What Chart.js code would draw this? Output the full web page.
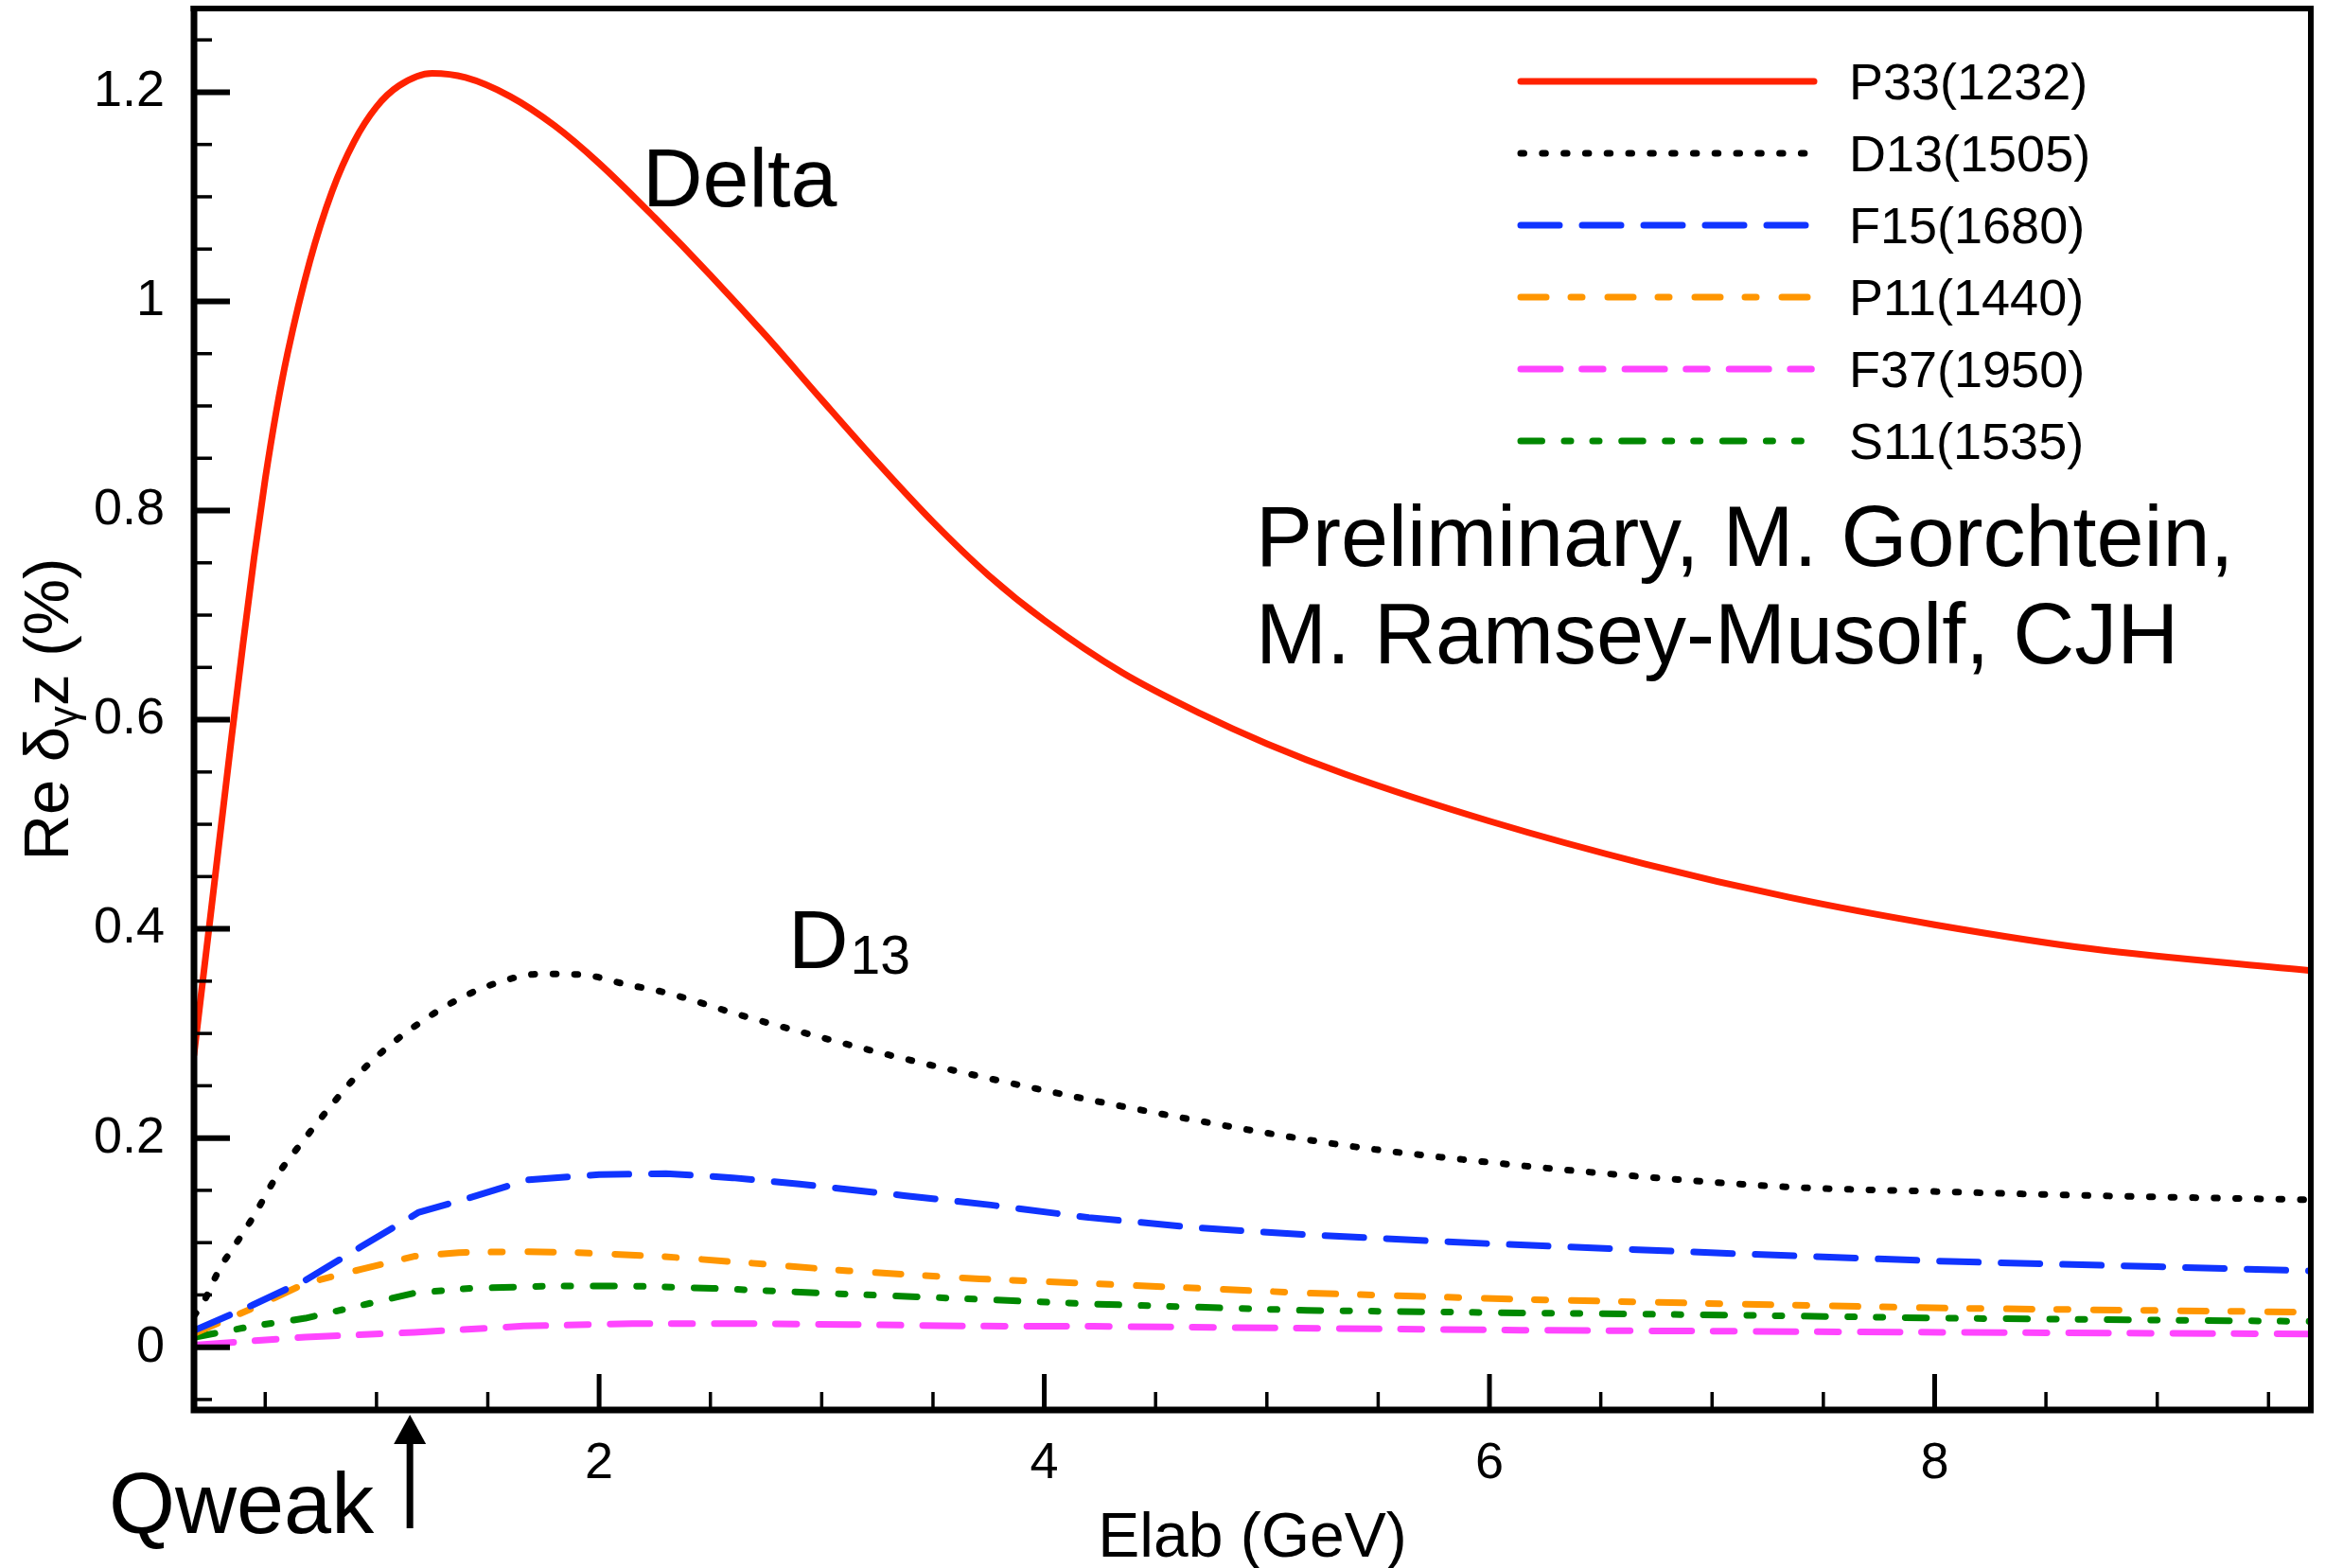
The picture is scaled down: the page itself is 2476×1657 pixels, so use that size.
<!DOCTYPE html>
<html>
<head>
<meta charset="utf-8">
<title>Re delta gamma Z</title>
<script src="https://cdn.jsdelivr.net/npm/chart.js@4.4.1/dist/chart.umd.min.js"></script>
<style>
    html, body { margin: 0; padding: 0; background: #fff; }
    #wrap { width: 2476px; height: 1657px; }
</style>
</head>
<body>
<div id="wrap"><canvas id="myChart" width="2476" height="1657"></canvas></div>
<script>
var FONT = "'Liberation Sans', Arial, Helvetica, sans-serif";

// resonance curves, Elab in GeV vs Re delta (%)
var p33X = [0.18, 0.25, 0.3, 0.35, 0.4, 0.45, 0.5, 0.55, 0.6, 0.7, 0.8, 0.9, 1.0, 1.1, 1.25, 1.4, 1.6, 1.8, 2.0, 2.25, 2.5, 2.75, 3.0, 3.25, 3.5, 3.75, 4.0, 4.35, 4.7, 5.0, 5.35, 6.0, 6.7, 7.35, 8.0, 8.7, 9.69];
var p33Y = [0.28, 0.405, 0.495, 0.585, 0.672, 0.755, 0.83, 0.895, 0.95, 1.038, 1.105, 1.153, 1.186, 1.206, 1.218, 1.214, 1.196, 1.168, 1.132, 1.080, 1.025, 0.967, 0.906, 0.846, 0.789, 0.738, 0.695, 0.645, 0.606, 0.577, 0.548, 0.503, 0.462, 0.430, 0.404, 0.381, 0.360];

var d13X = [0.18, 0.22, 0.3, 0.35, 0.45, 0.55, 0.68, 0.8, 0.9, 1.05, 1.2, 1.37, 1.55, 1.74, 1.93, 2.12, 2.3, 2.66, 3.33, 3.99, 4.68, 5.35, 5.99, 6.69, 7.36, 7.99, 8.7, 9.69];
var d13Y = [0.03, 0.042, 0.077, 0.093, 0.126, 0.163, 0.2, 0.232, 0.257, 0.287, 0.311, 0.333, 0.349, 0.357, 0.356, 0.347, 0.339, 0.316, 0.278, 0.246, 0.217, 0.193, 0.177, 0.163, 0.153, 0.149, 0.145, 0.141];

var f15X = [0.18, 0.44, 0.68, 0.93, 1.19, 1.42, 1.68, 2.0, 2.3, 2.6, 2.9, 3.37, 3.76, 4.2, 4.7, 5.18, 6.0, 7.1, 8.07, 9.0, 9.69];
var f15Y = [0.016, 0.040, 0.064, 0.096, 0.129, 0.143, 0.160, 0.165, 0.166, 0.162, 0.156, 0.145, 0.136, 0.124, 0.114, 0.1075, 0.099, 0.0895, 0.082, 0.077, 0.073];

var p11X = [0.18, 0.44, 0.68, 0.93, 1.17, 1.37, 1.66, 1.9, 2.27, 2.63, 3.12, 3.71, 4.22, 5.18, 6.14, 7.1, 8.07, 9.69];
var p11Y = [0.013, 0.037, 0.061, 0.0745, 0.087, 0.0905, 0.0915, 0.0905, 0.087, 0.0813, 0.073, 0.0653, 0.0608, 0.0518, 0.0458, 0.0413, 0.0373, 0.0335];

var f37X = [0.18, 0.68, 1.17, 1.66, 2.15, 2.64, 3.12, 3.71, 4.22, 6.14, 8.07, 9.69];
var f37Y = [0.002, 0.0097, 0.0142, 0.0202, 0.0226, 0.0226, 0.0217, 0.0202, 0.0200, 0.0163, 0.0142, 0.0127];

var s11X = [0.18, 0.44, 0.68, 0.93, 1.17, 1.42, 1.78, 2.15, 2.51, 3.0, 3.71, 4.22, 5.18, 6.14, 7.1, 8.07, 9.69];
var s11Y = [0.0095, 0.020, 0.0277, 0.040, 0.0518, 0.0563, 0.0585, 0.0585, 0.0563, 0.0518, 0.0458, 0.0413, 0.0352, 0.0328, 0.0307, 0.0277, 0.0247];

var seriesNames = ['P33(1232)', 'D13(1505)', 'F15(1680)', 'P11(1440)', 'F37(1950)', 'S11(1535)'];

var xTickValues = [2, 4, 6, 8];
var xTickLabels = ['2', '4', '6', '8'];
var yTickValues = [0, 0.2, 0.4, 0.6, 0.8, 1.0, 1.2];
var yTickLabels = ['0', '0.2', '0.4', '0.6', '0.8', '1', '1.2'];

var qweakEnergy = 1.15;

function toPoints(xs, ys) {
    var pts = [];
    for (var i = 0; i < xs.length; i++) {
        pts.push({ x: xs[i], y: ys[i] });
    }
    return pts;
}

function makeSet(label, xs, ys, color, dash, smooth) {
    return {
        label: label,
        data: toPoints(xs, ys),
        borderColor: color,
        backgroundColor: color,
        borderWidth: 7,
        borderDash: dash,
        borderCapStyle: 'round',
        borderJoinStyle: 'round',
        pointRadius: 0,
        fill: false,
        tension: 0,
        cubicInterpolationMode: smooth ? 'monotone' : 'default'
    };
}

// frame, inward ticks, legend and text labels
var decorations = {
    id: 'decorations',
    afterDraw: function (chart) {
        var ctx = chart.ctx;
        var a = chart.chartArea;
        var xs = chart.scales.x;
        var ys = chart.scales.y;
        var k, v, p, len;

        ctx.save();
        ctx.strokeStyle = '#000';
        ctx.fillStyle = '#000';
        ctx.lineCap = 'butt';

        // y ticks every 0.05, labelled every 0.2
        for (k = -1; k <= 25; k++) {
            v = k * 0.05;
            p = ys.getPixelForValue(v);
            len = (k % 4 === 0) ? 38 : 19;
            ctx.lineWidth = (k % 4 === 0) ? 6 : 3.5;
            ctx.beginPath();
            ctx.moveTo(a.left, p);
            ctx.lineTo(a.left + len, p);
            ctx.stroke();
        }
        // x ticks every 0.5
        for (k = 1; k <= 19; k++) {
            v = k * 0.5;
            p = xs.getPixelForValue(v);
            len = (k % 4 === 0) ? 38 : 19;
            ctx.lineWidth = (k % 4 === 0) ? 5 : 3.5;
            ctx.beginPath();
            ctx.moveTo(p, a.bottom);
            ctx.lineTo(p, a.bottom - len);
            ctx.stroke();
        }

        // box
        ctx.lineWidth = 6;
        ctx.beginPath();
        ctx.moveTo(a.left - 3.5, a.top);
        ctx.lineTo(a.right + 3, a.top);
        ctx.moveTo(a.right, a.top);
        ctx.lineTo(a.right, a.bottom);
        ctx.stroke();
        ctx.lineWidth = 7;
        ctx.beginPath();
        ctx.moveTo(a.left, a.top - 3);
        ctx.lineTo(a.left, a.bottom);
        ctx.moveTo(a.left - 3.5, a.bottom);
        ctx.lineTo(a.right + 3, a.bottom);
        ctx.stroke();

        // legend
        var lx0 = a.right - 835, lx1 = a.right - 525, tx = a.right - 488;
        ctx.font = '54px ' + FONT;
        ctx.textAlign = 'left';
        ctx.textBaseline = 'alphabetic';
        chart.data.datasets.forEach(function (ds, i) {
            var ly = a.top + 77 + i * 76;
            ctx.save();
            ctx.strokeStyle = ds.borderColor;
            ctx.lineWidth = ds.borderWidth;
            ctx.lineCap = 'round';
            ctx.setLineDash(ds.borderDash);
            ctx.beginPath();
            ctx.moveTo(lx0, ly);
            ctx.lineTo(lx1, ly);
            ctx.stroke();
            ctx.restore();
            ctx.fillText(ds.label, tx, ly + 19);
        });

        // curve labels
        ctx.font = '88px ' + FONT;
        ctx.fillText('Delta', xs.getPixelForValue(2.195), ys.getPixelForValue(1.091));
        var dx = xs.getPixelForValue(2.85), dy = ys.getPixelForValue(0.3624);
        ctx.fillText('D', dx, dy);
        var dw = ctx.measureText('D').width;
        ctx.font = '57px ' + FONT;
        ctx.fillText('13', dx + dw + 2, dy + 6);

        ctx.font = '90px ' + FONT;
        ctx.fillText('Preliminary, M. Gorchtein,', xs.getPixelForValue(4.95), ys.getPixelForValue(0.747));
        ctx.fillText('M. Ramsey-Musolf, CJH', xs.getPixelForValue(4.95), ys.getPixelForValue(0.654));

        // Qweak beam energy marker below the axis
        var qx = xs.getPixelForValue(qweakEnergy);
        ctx.lineWidth = 7;
        ctx.beginPath();
        ctx.moveTo(qx, a.bottom + 125);
        ctx.lineTo(qx, a.bottom + 30);
        ctx.stroke();
        ctx.beginPath();
        ctx.moveTo(qx, a.bottom + 5);
        ctx.lineTo(qx - 17, a.bottom + 36);
        ctx.lineTo(qx + 17, a.bottom + 36);
        ctx.closePath();
        ctx.fill();
        ctx.textAlign = 'right';
        ctx.fillText('Qweak', qx - 38, a.bottom + 130);

        // axis titles
        ctx.textAlign = 'center';
        ctx.font = '66px ' + FONT;
        ctx.fillText('Elab (GeV)', (a.left + a.right) / 2, 1645);

        drawYTitle(ctx, 72, (a.top + a.bottom) / 2);
        ctx.restore();
    }
};

// "Re δγz (%)" with a subscript gamma, read bottom to top
function drawYTitle(ctx, baseX, midY) {
    var parts = [
        { t: 'Re δ', size: 67, shift: 0 },
        { t: 'γ', size: 44, shift: 10 },
        { t: 'z (%)', size: 67, shift: 0 }
    ];
    var total = 0, i;
    for (i = 0; i < parts.length; i++) {
        ctx.font = parts[i].size + 'px ' + FONT;
        parts[i].w = ctx.measureText(parts[i].t).width;
        total += parts[i].w;
    }
    ctx.save();
    ctx.translate(baseX, midY);
    ctx.rotate(-Math.PI / 2);
    ctx.textAlign = 'left';
    ctx.textBaseline = 'alphabetic';
    var x = -total / 2;
    for (i = 0; i < parts.length; i++) {
        ctx.font = parts[i].size + 'px ' + FONT;
        ctx.fillText(parts[i].t, x, parts[i].shift);
        x += parts[i].w;
    }
    ctx.restore();
}

function renderChart() {
    var ctx = document.getElementById('myChart');
    var myChart = new Chart(ctx, {
        type: 'line',
        plugins: [decorations],
        data: {
            datasets: [
                makeSet(seriesNames[0], p33X, p33Y, '#ff2200', [], true),
                makeSet(seriesNames[1], d13X, d13Y, '#000000', [3.5, 19.3], true),
                makeSet(seriesNames[2], f15X, f15Y, '#1034ff', [41, 24], false),
                makeSet(seriesNames[3], p11X, p11Y, '#ff9600', [27, 26, 12, 27], false),
                makeSet(seriesNames[4], f37X, f37Y, '#ff45ff', [42, 22.6, 22.5, 23], false),
                makeSet(seriesNames[5], s11X, s11Y, '#008800', [22.5, 23.5, 7, 23, 7, 23.7], false)
            ]
        },
        options: {
            responsive: false,
            animation: false,
            devicePixelRatio: 1,
            layout: { padding: { left: 0, top: 9, right: 34, bottom: 0 } },
            plugins: {
                legend: { display: false },
                tooltip: { enabled: false }
            },
            scales: {
                x: {
                    type: 'linear',
                    min: 0.18,
                    max: 9.69,
                    grid: { display: false, drawTicks: false },
                    border: { display: false },
                    afterBuildTicks: function (s) {
                        s.ticks = xTickValues.map(function (v) { return { value: v }; });
                    },
                    afterFit: function (s) {
                        s.height = 167;
                        s.paddingLeft = 0;
                        s.paddingRight = 0;
                    },
                    ticks: {
                        autoSkip: false,
                        maxRotation: 0,
                        padding: 25,
                        color: '#000',
                        font: { family: FONT, size: 54 },
                        callback: function (value, index) { return xTickLabels[index]; }
                    }
                },
                y: {
                    type: 'linear',
                    min: -0.06,
                    max: 1.28,
                    grid: { display: false, drawTicks: false },
                    border: { display: false },
                    afterBuildTicks: function (s) {
                        s.ticks = yTickValues.map(function (v) { return { value: v }; });
                    },
                    afterFit: function (s) {
                        s.width = 205;
                        s.paddingTop = 0;
                        s.paddingBottom = 0;
                    },
                    ticks: {
                        padding: 31,
                        color: '#000',
                        font: { family: FONT, size: 54 },
                        callback: function (value, index) { return yTickLabels[index]; }
                    }
                }
            }
        }
    });
}

renderChart();
</script>
</body>
</html>
